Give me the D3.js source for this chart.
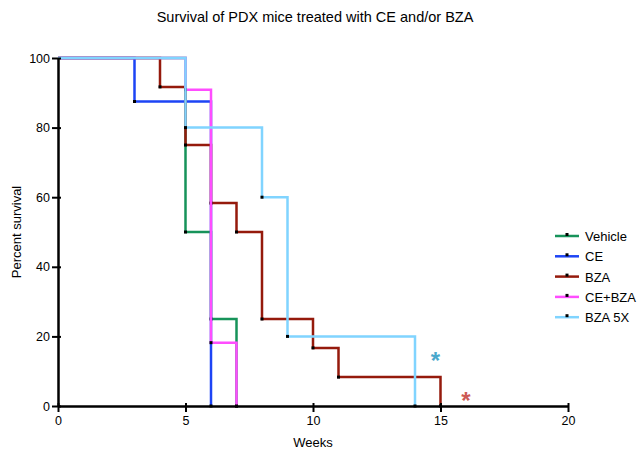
<!DOCTYPE html>
<html>
<head>
<meta charset="utf-8">
<script src="https://cdn.jsdelivr.net/npm/d3@7"></script>
<style>
  body { margin: 0; background: #fff; }
  svg text { font-family: "Liberation Sans", Arial, sans-serif; fill: #000; }
</style>
</head>
<body>
<svg id="chart" width="639" height="454"></svg>
<script>
// survival steps: [week, percent]
const vehicle = [[0, 100], [5, 50], [6, 25], [7, 0]];
const ce = [[0, 100], [3, 87.5], [6, 0]];
const bza = [[0, 100], [4, 91.7], [5, 75], [6, 58.3], [7, 50], [8, 25], [10, 16.7], [11, 8.3], [15, 0]];
const ceBza = [[0, 100], [5, 90.9], [6, 18.2], [7, 0]];
const bza5x = [[0, 100], [5, 80], [8, 60], [9, 20], [14, 0]];

const seriesNames = ['Vehicle', 'CE', 'BZA', 'CE+BZA', 'BZA 5X'];
const seriesData = [vehicle, ce, bza, ceBza, bza5x];
const seriesColors = ['#17935a', '#1d44f5', '#951a0c', '#ff4dff', '#80d4ff'];

const xTicks = [0, 5, 10, 15, 20];
const yTicks = [0, 20, 40, 60, 80, 100];

// significance marks: [week, percent, colour]
const stars = [[14.8, 14, '#4aa8cc'], [16, 2.6, '#cc5a55']];

const margin = {left: 58, right: 71, top: 58, bottom: 48};
const width = 639, height = 454;
const svg = d3.select('#chart');

const x = d3.scaleLinear().domain([0, 20]).range([margin.left, width - margin.right]);
const y = d3.scaleLinear().domain([0, 100]).range([height - margin.bottom, margin.top]);

// title
svg.append('text')
    .attr('x', 315).attr('y', 22)
    .attr('text-anchor', 'middle')
    .style('font-size', '14.5px')
    .text('Survival of PDX mice treated with CE and/or BZA');

// step curves, each with its event marks
const stepLine = d3.line()
    .x(d => x(d[0]))
    .y(d => y(d[1]))
    .curve(d3.curveStepAfter);

seriesData.forEach((s, i) => {
    const g = svg.append('g');
    g.append('path')
        .datum(s)
        .attr('fill', 'none')
        .attr('stroke', seriesColors[i])
        .attr('stroke-width', 2.5)
        .attr('d', stepLine);
    g.selectAll('rect')
        .data(s.slice(1))
        .enter()
        .append('rect')
        .attr('x', d => x(d[0]) - 1.5)
        .attr('y', d => y(d[1]) - 1.5)
        .attr('width', 3)
        .attr('height', 3)
        .attr('fill', '#000');
});

// axes
const xAxis = svg.append('g')
    .attr('transform', `translate(0,${height - margin.bottom})`)
    .call(d3.axisBottom(x).tickValues(xTicks).tickSize(6).tickPadding(4).tickSizeOuter(0));
const yAxis = svg.append('g')
    .attr('transform', `translate(${margin.left},0)`)
    .call(d3.axisLeft(y).tickValues(yTicks).tickSize(6).tickPadding(2).tickSizeOuter(0));

[xAxis, yAxis].forEach(a => {
    a.select('.domain').attr('stroke', '#000').attr('stroke-width', 2.5);
    a.selectAll('.tick line').attr('stroke', '#000').attr('stroke-width', 2);
    a.selectAll('.tick text')
        .style('font-size', '12.5px')
        .style('font-family', '"Liberation Sans", Arial, sans-serif')
        .attr('fill', '#000');
});
xAxis.selectAll('.tick line').attr('y1', -3);
yAxis.selectAll('.tick line').attr('x1', 3);

// axis titles
svg.append('text')
    .attr('x', x(10)).attr('y', 447)
    .attr('text-anchor', 'middle')
    .style('font-size', '13px')
    .text('Weeks');
svg.append('text')
    .attr('transform', `translate(21,${y(50)}) rotate(-90)`)
    .attr('text-anchor', 'middle')
    .style('font-size', '13px')
    .text('Percent survival');

// asterisks
svg.append('g')
    .selectAll('text')
    .data(stars)
    .enter()
    .append('text')
    .attr('x', d => x(d[0]))
    .attr('y', d => y(d[1]) + 12)
    .attr('text-anchor', 'middle')
    .style('font-size', '24px')
    .style('font-weight', 'bold')
    .style('fill', d => d[2])
    .text('*');

// legend
const legend = svg.append('g').attr('transform', 'translate(555,236)');
seriesNames.forEach((name, i) => {
    const g = legend.append('g').attr('transform', `translate(0,${i * 20.3})`);
    g.append('line')
        .attr('x1', 0).attr('x2', 24)
        .attr('stroke', seriesColors[i])
        .attr('stroke-width', 2.5);
    g.append('rect')
        .attr('x', 10.5).attr('y', -3).attr('width', 3).attr('height', 3)
        .attr('fill', '#000');
    g.append('text')
        .attr('x', 30).attr('y', 5)
        .style('font-size', '13px')
        .text(name);
});
</script>
</body>
</html>
